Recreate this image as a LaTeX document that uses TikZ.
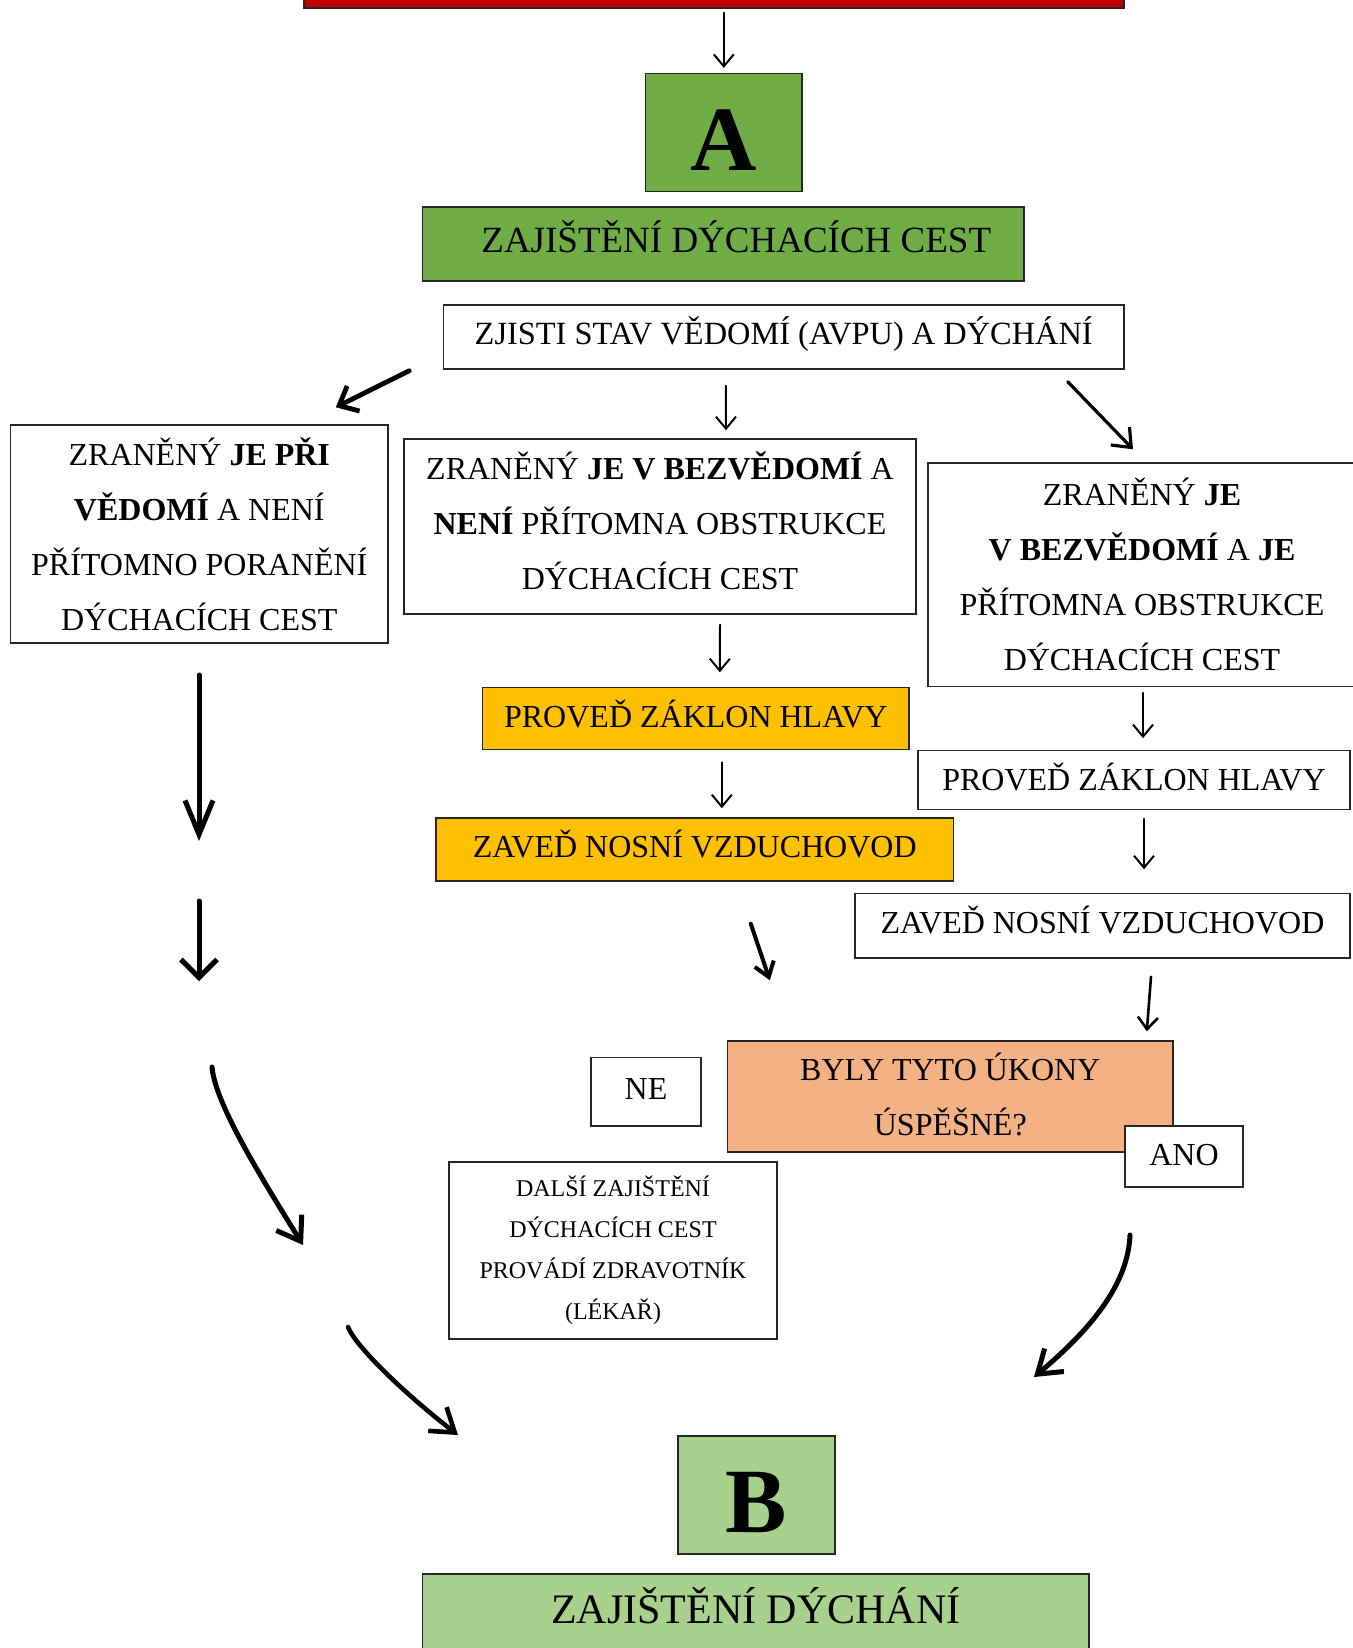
\documentclass[tikz,border=0pt]{standalone}
\usepackage{fontspec}
\setmainfont{Liberation Serif}
\usetikzlibrary{arrows.meta,calc}
\definecolor{redbar}{HTML}{C00000}
\definecolor{greenA}{HTML}{70AD47}
\definecolor{greenB}{HTML}{A9D18E}
\definecolor{yellowbox}{HTML}{FFC000}
\definecolor{orangeq}{HTML}{F4B183}
\begin{document}
\begin{tikzpicture}[x=0.5pt,y=-0.5pt,
  box/.style={draw=black!85, line width=0.75pt, inner sep=0pt, align=center,
    font=\fontsize{16}{27.5}\selectfont},
  oneline/.style={text height=10.6pt, text depth=3pt},
  bigletter/.style={font=\fontsize{46}{46}\selectfont\bfseries},
  thinarr/.style={line width=1pt, line cap=round, -{Straight Barb[length=6pt,width=10pt]}},
  medarr/.style={line width=1.6pt, line cap=round, -{Straight Barb[length=8pt,width=13pt]}},
  thickarr/.style={line width=2.4pt, line cap=round, -{Straight Barb[length=8pt,width=14pt]}},
]
\clip (0,0) rectangle (1353,1648);

% top red bar
\node[box, fill=redbar, minimum width=410pt, minimum height=14.2pt] (top) at (714,-6) {};

% A
\node[box, fill=greenA, minimum width=78.25pt, minimum height=58.85pt, bigletter] (A) at (723.8,132.5) {\raisebox{-4pt}[\height][0pt]{A}};
\node[box, fill=greenA, minimum width=300.7pt, minimum height=36.85pt, font=\fontsize{18.5}{20}\selectfont, text height=12.25pt, text depth=4pt] (zdc) at (723.3,243.9) {\hspace*{13pt}ZAJIŠTĚNÍ DÝCHACÍCH CEST};

\node[box, minimum width=340.2pt, minimum height=32pt, font=\fontsize{16.2}{27.5}\selectfont, text height=10.7pt, text depth=3pt] (zjisti) at (783.8,337) {ZJISTI STAV VĚDOMÍ (AVPU) A DÝCHÁNÍ};

\node[box, minimum width=188.75pt, minimum height=109pt] (left) at (199.3,534)
  {ZRANĚNÝ \textbf{JE PŘI}\\\textbf{VĚDOMÍ} A NENÍ\\PŘÍTOMNO PORANĚNÍ\\DÝCHACÍCH CEST};
\node[box, minimum width=256pt, minimum height=87.5pt] (mid) at (660,526.5)
  {\raisebox{1.5pt}[\height][\depth]{\begin{tabular}{@{}c@{}}ZRANĚNÝ \textbf{JE V BEZVĚDOMÍ} A\\\textbf{NENÍ} PŘÍTOMNA OBSTRUKCE\\DÝCHACÍCH CEST\end{tabular}}};
\node[box, minimum width=214pt, minimum height=111.75pt] (right) at (1142,574.8)
  {ZRANĚNÝ \textbf{JE}\\\textbf{V BEZVĚDOMÍ} A \textbf{JE}\\PŘÍTOMNA OBSTRUKCE\\DÝCHACÍCH CEST};

\node[box, oneline, text depth=1.6pt, fill=yellowbox, minimum width=213.25pt, minimum height=31.05pt] (yP) at (695.8,718.6) {PROVEĎ ZÁKLON HLAVY};
\node[box, oneline, fill=yellowbox, minimum width=258.75pt, minimum height=31.5pt] (yZ) at (694.8,849.5) {ZAVEĎ NOSNÍ VZDUCHOVOD};
\node[box, oneline, text depth=0.4pt, minimum width=216pt, minimum height=29.5pt] (wP) at (1134,780) {PROVEĎ ZÁKLON HLAVY};
\node[box, oneline, minimum width=247.5pt, minimum height=32.2pt] (wZ) at (1102.5,925.8) {ZAVEĎ NOSNÍ VZDUCHOVOD};

\node[box, fill=orangeq, minimum width=222.75pt, minimum height=55.5pt] (q) at (950.3,1096.5)
  {\begin{tabular}{@{}c@{}}BYLY TYTO ÚKONY\\ÚSPĚŠNÉ?\end{tabular}};
\node[box, oneline, fill=white, minimum width=55pt, minimum height=34.2pt] (ne) at (646,1091.8) {NE};
\node[box, oneline, text depth=1.5pt, fill=white, minimum width=59pt, minimum height=30.5pt] (ano) at (1184,1156.5) {ANO};
\node[box, minimum width=164pt, minimum height=88.5pt, font=\fontsize{12}{20.5}\selectfont] (dalsi) at (613,1250.5)
  {DALŠÍ ZAJIŠTĚNÍ\\DÝCHACÍCH CEST\\PROVÁDÍ ZDRAVOTNÍK\\(LÉKAŘ)};

% B
\node[box, fill=greenB, minimum width=78.5pt, minimum height=59pt, bigletter] (B) at (756.5,1495) {\raisebox{-3.5pt}[\height][0pt]{B}};
\node[box, fill=greenB, minimum width=333.2pt, minimum height=43pt, font=\fontsize{21}{24}\selectfont, text height=13.9pt, text depth=7pt] (zd) at (755.8,1617) {ZAJIŠTĚNÍ DÝCHÁNÍ};

% free ends of the floating arrows
\coordinate (l1s) at (199,675);
\coordinate (l1e) at (199,841);
\coordinate (l2s) at (199,901);
\coordinate (l2e) at (199,981);
\coordinate (c1s) at (212,1067);
\coordinate (c1e) at (303,1245);
\coordinate (c2s) at (348,1327);
\coordinate (c2e) at (458,1435);
\coordinate (c3s) at (1130,1235);
\coordinate (c3e) at (1034,1377);

% connectors
\draw[thinarr] ($(A.north |- top.south)+(0,4)$) -- ($(A.north)+(0,-5)$);
\draw[thickarr] ($(zjisti.south west)+(-33.6,1)$) -- ($(left.north east)+(-53,-17)$);
\draw[thinarr] ($(zjisti.south)+(-58,16)$) -- ($(mid.north)+(66,-8)$);
\draw[medarr] ($(zjisti.south east)+(-57,12)$) -- ($(right.north)+(-9,-13)$);
\draw[thinarr] ($(mid.south)+(60,10)$) -- ($(yP.north)+(24,-14.5)$);
\draw[thinarr] ($(yP.south)+(26,12)$) -- ($(yZ.north)+(27,-9)$);
\draw[line width=2pt, line cap=round, -{Straight Barb[length=7pt,width=10pt]}] ($(yZ.south)+(56,42)$) -- ($(q.north west)+(43,-60)$);
\draw[thinarr] ($(right.south)+(1,5.5)$) -- ($(wP.north)+(9,-11.6)$);
\draw[thinarr] ($(wP.south)+(10,8.5)$) -- ($(wZ.north)+(41.5,-23.6)$);
\draw[line width=1.3pt, line cap=round, -{Straight Barb[length=6pt,width=10pt]}] ($(wZ.south)+(48.5,18)$) -- ($(q.north east)+(-27,-9)$);

\draw[line width=2.5pt, line cap=round, -{Straight Barb[length=17pt,width=14pt]}] (l1s) -- (l1e);
\draw[line width=2.5pt, line cap=round, -{Straight Barb[length=9pt,width=18pt]}] (l2s) -- (l2e);
\draw[line width=2.5pt, line cap=round, -{Straight Barb[length=11pt,width=15pt]}] (c1s) .. controls (215,1100) and (250,1160) .. (c1e);
\draw[line width=2.3pt, line cap=round, -{Straight Barb[length=11pt,width=15pt]}] (c2s) .. controls (355,1345) and (400,1390) .. (c2e);
\draw[line width=2.5pt, line cap=round, -{Straight Barb[length=11pt,width=15pt]}] (c3s) .. controls (1128,1285) and (1090,1330) .. (c3e);
\end{tikzpicture}
\end{document}
